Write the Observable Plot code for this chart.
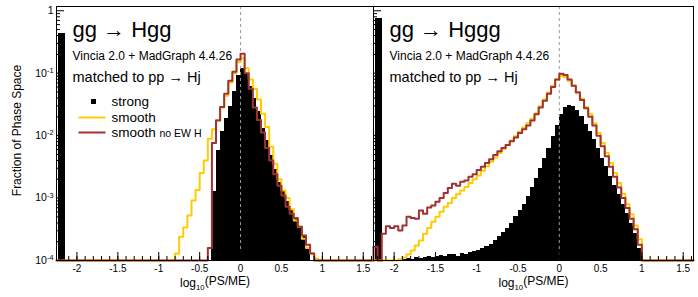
<!DOCTYPE html>
<html><head><meta charset="utf-8">
<script src="https://cdn.jsdelivr.net/npm/d3@7"></script>
<script src="https://cdn.jsdelivr.net/npm/@observablehq/plot@0.6"></script>
<style>
body{margin:0;background:#fff;}
#chart{position:relative;width:698px;height:297px;overflow:hidden;background:#fff;}
#chart svg{position:absolute;top:0;}
</style></head><body><div id="chart"></div>
<script>
// ---------- data ----------
const binWidth = 0.05;
const xDomain = [-2.25, 1.625];
const yDomain = [1e-4, 1.17];
const xTickValues = [-2, -1.5, -1, -0.5, 0, 0.5, 1, 1.5];
const xTickLabels = ["-2", "-1.5", "-1", "-0.5", "0", "0.5", "1", "1.5"];
const yTickValues = [1, 0.1, 0.01, 0.001, 0.0001];
const yTickLabels = ["1", "10^-1", "10^-2", "10^-3", "10^-4"];
const panelTitles = ["gg \u2192 Hgg", "gg \u2192 Hggg"];
const generatorText = "Vincia 2.0 + MadGraph 4.4.26";
const matchingText = "matched to pp \u2192 Hj";
const legendLabels = ["strong", "smooth", "smooth"];
const legendNote = "no EW H";
const xTitle = "log10(PS/ME)";
const yTitle = "Fraction of Phase Space";
const underflowEdges = [-2.22, -2.14];

// left panel: gg -> Hgg
const leftUnderflow = 0.43;
const leftStrongStart = -0.35;
const leftStrong = [1.26e-3, 5.75e-3, 1.15e-2, 1.86e-2, 2.88e-2, 5.01e-2, 9.12e-2, 0.120, 0.100, 6.03e-2,
  3.98e-2, 2.40e-2, 1.32e-2, 8.32e-3, 4.79e-3, 2.82e-3, 1.78e-3, 1.26e-3, 8.91e-4, 6.31e-4,
  4.47e-4, 3.31e-4, 2.40e-4, 1.58e-4];
const leftSmoothStart = -0.80;
const leftSmooth = [1.29e-4, 2.40e-4, 3.39e-4, 5.25e-4, 9.12e-4, 1.35e-3, 2.51e-3, 3.98e-3, 8.91e-3, 1.26e-2,
  1.78e-2, 2.82e-2, 4.37e-2, 7.08e-2, 0.100, 0.151, 0.174, 0.120, 7.94e-2, 5.62e-2,
  3.80e-2, 2.24e-2, 1.38e-2, 6.61e-3, 3.55e-3, 2.00e-3, 1.32e-3, 1.00e-3, 6.61e-4, 4.37e-4,
  3.47e-4, 2.24e-4, 1.58e-4, 1.29e-4, 1.07e-4];
const leftNoEWStart = -0.40;
const leftNoEW = [1.58e-4, 7.59e-3, 1.74e-2, 2.88e-2, 4.68e-2, 7.59e-2, 0.105, 0.166, 0.204, 0.100,
  5.62e-2, 2.82e-2, 1.78e-2, 1.12e-2, 6.31e-3, 3.98e-3, 2.40e-3, 1.58e-3, 1.10e-3, 7.24e-4,
  5.62e-4, 4.79e-4, 3.47e-4, 2.51e-4, 1.78e-4, 1.29e-4];

// right panel: gg -> Hggg
const rightUnderflow = 0.74;
const rightStrongStart = -1.95;
const rightStrong = [1.02e-4, 1.05e-4, 1.07e-4, 1.05e-4, 1.10e-4, 1.07e-4, 1.12e-4, 1.15e-4, 1.10e-4, 1.17e-4,
  1.20e-4, 1.15e-4, 1.23e-4, 1.26e-4, 1.17e-4, 1.29e-4, 1.26e-4, 1.32e-4, 1.38e-4, 1.45e-4,
  1.58e-4, 1.70e-4, 1.82e-4, 2.09e-4, 2.40e-4, 2.82e-4, 3.31e-4, 3.98e-4, 5.01e-4, 6.31e-4,
  7.94e-4, 1.05e-3, 1.45e-3, 2.09e-3, 3.02e-3, 4.37e-3, 6.31e-3, 9.55e-3, 1.45e-2, 2.19e-2,
  2.82e-2, 3.02e-2, 2.88e-2, 2.51e-2, 2.00e-2, 1.51e-2, 1.15e-2, 8.71e-3, 6.31e-3, 4.37e-3,
  3.16e-3, 2.19e-3, 1.58e-3, 1.12e-3, 7.94e-4, 5.62e-4, 3.98e-4, 2.75e-4, 1.58e-4];
const rightSmoothStart = -1.95;
const rightSmooth = [1.05e-4, 1.12e-4, 1.26e-4, 1.45e-4, 1.74e-4, 2.09e-4, 2.69e-4, 3.31e-4, 4.17e-4, 5.01e-4,
  6.03e-4, 7.24e-4, 8.32e-4, 1.00e-3, 1.15e-3, 1.32e-3, 1.51e-3, 1.74e-3, 2.00e-3, 2.29e-3,
  2.75e-3, 3.24e-3, 3.80e-3, 4.47e-3, 5.25e-3, 6.17e-3, 7.08e-3, 8.32e-3, 9.77e-3, 1.15e-2,
  1.35e-2, 1.58e-2, 1.86e-2, 2.29e-2, 2.95e-2, 3.80e-2, 4.90e-2, 6.31e-2, 7.94e-2, 9.12e-2,
  8.71e-2, 7.59e-2, 6.31e-2, 5.01e-2, 3.89e-2, 2.88e-2, 2.19e-2, 1.58e-2, 1.10e-2, 7.59e-3,
  5.25e-3, 3.63e-3, 2.51e-3, 1.74e-3, 1.17e-3, 7.94e-4, 5.50e-4, 3.63e-4, 2.19e-4];
const rightNoEWStart = -2.25;
const rightNoEW = [1.66e-4, 0, 2.69e-4, 3.55e-4, 3.31e-4, 3.55e-4, 3.02e-4, 3.63e-4, 5.01e-4, 4.79e-4,
  4.68e-4, 6.31e-4, 5.62e-4, 7.08e-4, 7.59e-4, 8.71e-4, 1.00e-3, 1.20e-3, 1.45e-3, 1.70e-3,
  1.58e-3, 1.82e-3, 1.91e-3, 2.19e-3, 2.40e-3, 2.82e-3, 3.16e-3, 3.63e-3, 4.17e-3, 4.90e-3,
  5.62e-3, 6.31e-3, 7.08e-3, 8.13e-3, 9.33e-3, 1.10e-2, 1.26e-2, 1.45e-2, 1.74e-2, 2.19e-2,
  2.82e-2, 3.63e-2, 4.68e-2, 6.03e-2, 7.94e-2, 9.77e-2, 9.33e-2, 7.94e-2, 6.31e-2, 4.90e-2,
  3.72e-2, 2.75e-2, 2.00e-2, 1.45e-2, 1.00e-2, 6.76e-3, 4.68e-3, 3.16e-3, 2.19e-3, 1.48e-3,
  1.00e-3, 6.92e-4, 4.68e-4, 3.16e-4, 1.78e-4];

// ---------- styling ----------
const FONT = "'Liberation Sans', Arial, Helvetica, sans-serif";
const YELLOW = "#ffcc00";
const RED = "#a03232";
const H = 297, MT = 6, MB = 37;

const r4 = v => Math.round(v * 10000) / 10000;
function toBars(start, values) {
  return values.map((v, i) => ({x1: r4(start + i * binWidth), x2: r4(start + (i + 1) * binWidth), y: v})).filter(d => d.y > 0);
}
function toSteps(start, values) {
  const floor = yDomain[0];
  const pts = [{x: xDomain[0], y: floor}];
  values.forEach((v, i) => pts.push({x: r4(start + i * binWidth), y: v > 0 ? Math.max(v, floor) : floor}));
  pts.push({x: r4(start + values.length * binWidth), y: floor});
  pts.push({x: xDomain[1], y: floor});
  return pts;
}
const yMinor = [];
for (let e = -4; e <= -1; e++) for (let k = 2; k <= 9; k++) yMinor.push(k * Math.pow(10, e));
const xMinor = d3.range(-22, 17).map(i => i / 10);

const lineSymbol = {draw(ctx) { ctx.moveTo(-13.5, 0); ctx.lineTo(13.5, 0); }};

function label(text, dx, dy, fontSize, extra = {}) {
  return Plot.text([text], {text: d => d, frameAnchor: "top-left", textAnchor: "start", lineAnchor: "middle", dx, dy, fontSize, ...extra});
}

function makePanel(o) {
  const plotW = o.width - o.marginLeft - o.marginRight;
  const plotH = H - MT - MB;
  const floor = yDomain[0];
  const marks = [
    Plot.rect(toBars(o.strongStart, o.strong), {x1: "x1", x2: "x2", y1: () => floor, y2: "y", fill: "black", shapeRendering: "crispEdges"}),
    Plot.rect([o.underflow], {x1: () => underflowEdges[0], x2: () => underflowEdges[1], y1: () => floor, y2: d => d, fill: "black", shapeRendering: "crispEdges"}),
    Plot.ruleX([0], {stroke: "#999", strokeDasharray: "3,3"}),
    Plot.line(toSteps(o.smoothStart, o.smooth), {x: "x", y: "y", curve: "step-after", stroke: YELLOW, strokeWidth: 2}),
    Plot.line(toSteps(o.noEWStart, o.noEW), {x: "x", y: "y", curve: "step-after", stroke: RED, strokeWidth: 2}),
    Plot.ruleX(xMinor, {insetTop: plotH - 4, stroke: "black"}),
    Plot.ruleX(xTickValues, {insetTop: plotH - 8, stroke: "black"}),
    Plot.ruleY(yMinor, {insetRight: plotW - 4, stroke: "black"}),
    Plot.ruleY(yTickValues, {insetRight: plotW - 8, stroke: "black"}),
    Plot.frame({stroke: "black"}),
    Plot.text(xTickValues, {x: d => d, text: (d, i) => xTickLabels[i], frameAnchor: "bottom", lineAnchor: "middle", dy: 8, fontSize: 10}),
    Plot.text([xTitle], {text: d => d, frameAnchor: "bottom", textAnchor: "middle", lineAnchor: "middle", dy: 22.5, fontSize: 12}),
    label(o.title, 16, 23, 22),
    label(generatorText, 16, 49.5, 12),
    label(matchingText, 16, 71, 14.5)
  ];
  if (o.showYLabels) {
    marks.push(
      Plot.text(yTickValues, {y: d => d, text: (d, i) => yTickLabels[i], frameAnchor: "left", textAnchor: "end", lineAnchor: "middle", dx: -3, fontSize: 10.5}),
      Plot.text([yTitle], {text: d => d, frameAnchor: "left", textAnchor: "middle", lineAnchor: "middle", rotate: -90, dx: -39, dy: -3, fontSize: 12})
    );
  }
  if (o.showLegend) {
    marks.push(
      Plot.dot([legendLabels[0]], {frameAnchor: "top-left", dx: 37, dy: 95, symbol: "square", r: 2.8, fill: "black", stroke: "none"}),
      Plot.dot([legendLabels[1]], {frameAnchor: "top-left", dx: 35.5, dy: 111, symbol: lineSymbol, stroke: YELLOW, strokeWidth: 2, fill: "none"}),
      Plot.dot([legendLabels[2]], {frameAnchor: "top-left", dx: 35.5, dy: 126, symbol: lineSymbol, stroke: RED, strokeWidth: 2, fill: "none"}),
      label(legendLabels[0], 55, 95, 13.5),
      label(legendLabels[1], 55, 111, 13.5),
      label(legendLabels[2], 55, 126, 13.5),
      label(legendNote, 103, 127.5, 10.5)
    );
  }
  const svg = Plot.plot({
    width: o.width, height: H,
    marginLeft: o.marginLeft, marginRight: o.marginRight, marginTop: MT, marginBottom: MB,
    x: {domain: xDomain, axis: null},
    y: {type: "log", domain: yDomain, axis: null},
    style: {background: "transparent", overflow: "visible", fontFamily: FONT, color: "black"},
    marks
  });
  svg.querySelectorAll("text").forEach(t => {
    const s = t.textContent;
    const m = s.match(/^10\^(-?\d+)$/);
    if (m) t.innerHTML = `10<tspan dy="-0.5em" font-size="70%">${m[1]}</tspan>`;
    else if (s === xTitle) t.innerHTML = `log<tspan dy="0.45em" font-size="65%">10</tspan><tspan dy="-0.45em">(PS/ME)</tspan>`;
  });
  svg.style.left = o.left + "px";
  return svg;
}

const chart = document.getElementById("chart");
chart.appendChild(makePanel({
  left: 0, width: 374, marginLeft: 56, marginRight: 1,
  strongStart: leftStrongStart, strong: leftStrong,
  smoothStart: leftSmoothStart, smooth: leftSmooth,
  noEWStart: leftNoEWStart, noEW: leftNoEW,
  underflow: leftUnderflow, title: panelTitles[0], showYLabels: true, showLegend: true
}));
chart.appendChild(makePanel({
  left: 372, width: 326, marginLeft: 1, marginRight: 5,
  strongStart: rightStrongStart, strong: rightStrong,
  smoothStart: rightSmoothStart, smooth: rightSmooth,
  noEWStart: rightNoEWStart, noEW: rightNoEW,
  underflow: rightUnderflow, title: panelTitles[1], showYLabels: false, showLegend: false
}));
</script></body></html>
